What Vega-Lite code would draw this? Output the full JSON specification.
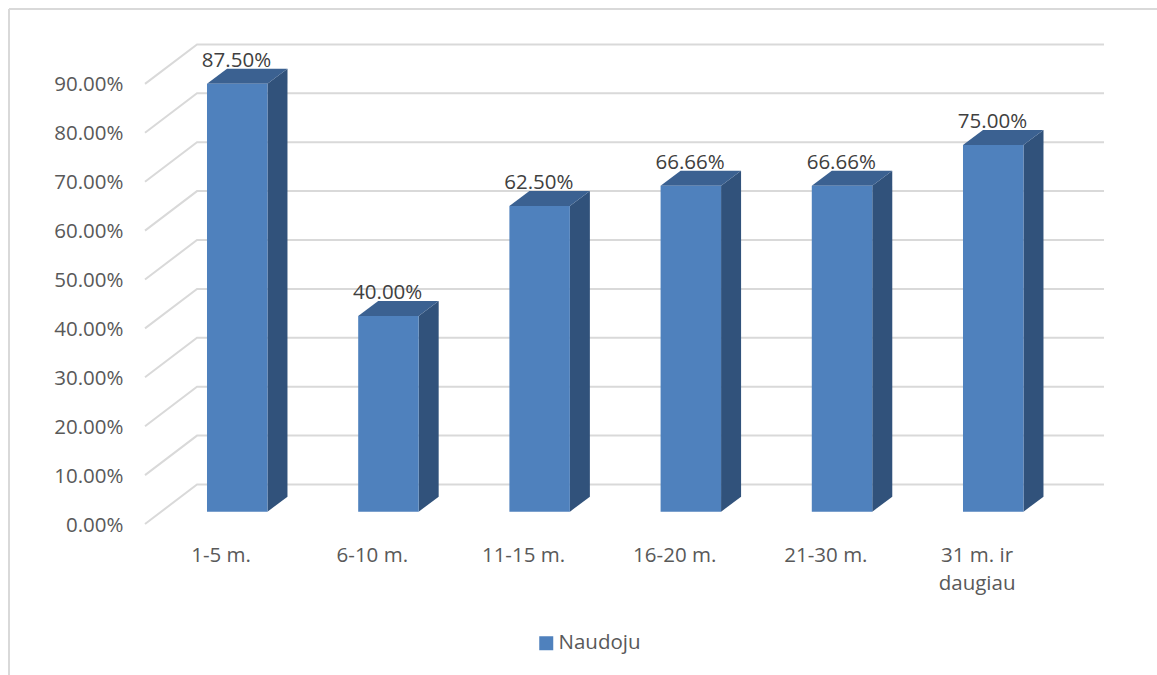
{
  "$schema": "https://vega.github.io/schema/vega-lite/v6.json",
  "width": 959,
  "height": 480,
  "autosize": "none",
  "padding": {"left": 145, "top": 44, "right": 53, "bottom": 151},
  "background": "white",
  "config": {
    "view": {"stroke": null},
    "font": "Open Sans"
  },
  "datasets": {
    "bars": [
      {"label": "1-5 m.", "slot": 0, "share": 0.875, "series": "Naudoju"},
      {"label": "6-10 m.", "slot": 1, "share": 0.4, "series": "Naudoju"},
      {"label": "11-15 m.", "slot": 2, "share": 0.625, "series": "Naudoju"},
      {"label": "16-20 m.", "slot": 3, "share": 0.6666, "series": "Naudoju"},
      {"label": "21-30 m.", "slot": 4, "share": 0.6666, "series": "Naudoju"},
      {"label": "31 m. ir daugiau", "slot": 5, "share": 0.75, "series": "Naudoju"}
    ],
    "levels": [
      {"level": 0}, {"level": 0.1}, {"level": 0.2}, {"level": 0.3}, {"level": 0.4},
      {"level": 0.5}, {"level": 0.6}, {"level": 0.7}, {"level": 0.8}, {"level": 0.9}
    ],
    "border": [
      {"edge": "left", "x": -0.8995, "y": 1.0532, "t": 0},
      {"edge": "left", "x": -0.8995, "y": -1, "t": 1},
      {"edge": "top", "x": -0.8995, "y": 1.0532, "t": 0},
      {"edge": "top", "x": 8, "y": 1.0532, "t": 1}
    ]
  },
  "encoding": {
    "x": {
      "field": "x",
      "type": "quantitative",
      "scale": {"domain": [0, 6.3426], "nice": false, "zero": false},
      "axis": {
        "title": null,
        "orient": "bottom",
        "domain": false,
        "ticks": false,
        "grid": false,
        "values": [0.5, 1.5, 2.5, 3.5, 4.5, 5.5],
        "labelExpr": "[['1-5 m.'], ['6-10 m.'], ['11-15 m.'], ['16-20 m.'], ['21-30 m.'], ['31 m. ir', 'daugiau']][floor(datum.value)]",
        "labelFont": "Open Sans",
        "labelFontSize": 20.5,
        "labelColor": "#595959",
        "labelPadding": 21,
        "labelBaseline": "top",
        "labelLineHeight": 28,
        "labelAlign": "center",
        "labelOverlap": false,
        "labelFlush": false
      }
    },
    "y": {
      "field": "y",
      "type": "quantitative",
      "scale": {"domain": [0, 0.9816], "nice": false, "zero": false},
      "axis": {
        "title": null,
        "domain": false,
        "ticks": false,
        "grid": false,
        "values": [0, 0.1, 0.2, 0.3, 0.4, 0.5, 0.6, 0.7, 0.8, 0.9],
        "format": ".2%",
        "labelFont": "Open Sans",
        "labelFontSize": 20.5,
        "labelColor": "#595959",
        "labelPadding": 22,
        "labelOffset": 1
      }
    }
  },
  "layer": [
    {
      "description": "Chart-area border, open towards the right and bottom",
      "data": {"name": "border"},
      "mark": {"type": "line", "stroke": "#d9d9d9", "strokeWidth": 2, "clip": false},
      "encoding": {
        "detail": {"field": "edge"},
        "order": {"field": "t"}
      }
    },
    {
      "description": "Gridlines: side-wall diagonal then back-wall horizontal",
      "data": {"name": "levels"},
      "transform": [
        {"calculate": "[0, 1, 2]", "as": "t"},
        {"flatten": ["t"]},
        {"calculate": "[0, 0.344, 6.3426][datum.t]", "as": "x"},
        {"calculate": "datum.level + (datum.t > 0 ? 0.0808 : 0)", "as": "y"}
      ],
      "mark": {"type": "line", "stroke": "#d9d9d9", "strokeWidth": 2},
      "encoding": {"detail": {"field": "level"}}
    },
    {
      "description": "Right side face of each column",
      "data": {"name": "bars"},
      "transform": [
        {"calculate": "[0, 1]", "as": "t"},
        {"flatten": ["t"]},
        {"calculate": "datum.slot + 0.81 + datum.t * 0.1323", "as": "x"},
        {"calculate": "0.0252 + datum.t * 0.0307", "as": "y"},
        {"calculate": "datum.share + 0.0252 + datum.t * 0.0307", "as": "y_top"}
      ],
      "mark": {"type": "area", "orient": "vertical", "fill": "#31527b"},
      "encoding": {
        "y2": {"field": "y_top"},
        "detail": {"field": "label"}
      }
    },
    {
      "description": "Top face of each column",
      "data": {"name": "bars"},
      "transform": [
        {"calculate": "[0, 1, 2, 3]", "as": "t"},
        {"flatten": ["t"]},
        {"calculate": "datum.slot + 0.41 + [0, 0.1323, 0.4, 0.5323][datum.t]", "as": "x"},
        {"calculate": "datum.share + 0.0252 + (datum.t == 3 ? 0.0307 : 0)", "as": "y"},
        {"calculate": "datum.share + 0.0252 + (datum.t == 0 ? 0 : 0.0307)", "as": "y_top"}
      ],
      "mark": {"type": "area", "orient": "vertical", "fill": "#3b6191"},
      "encoding": {
        "y2": {"field": "y_top"},
        "detail": {"field": "label"}
      }
    },
    {
      "description": "Front face of each column, carrying the legend",
      "data": {"name": "bars"},
      "transform": [
        {"calculate": "datum.slot + 0.41", "as": "x"},
        {"calculate": "datum.slot + 0.81", "as": "x_end"},
        {"calculate": "datum.share + 0.0252", "as": "y"},
        {"calculate": "0.0252", "as": "y_base"}
      ],
      "mark": {"type": "rect"},
      "encoding": {
        "x2": {"field": "x_end"},
        "y2": {"field": "y_base"},
        "color": {
          "field": "series",
          "type": "nominal",
          "scale": {"range": ["#4f81bd"]},
          "legend": {
            "title": null,
            "orient": "none",
            "legendX": 391,
            "legendY": 589,
            "symbolType": "square",
            "symbolSize": 196,
            "symbolStrokeWidth": 0,
            "symbolOpacity": 1,
            "labelFont": "Open Sans",
            "labelFontSize": 20.5,
            "labelColor": "#595959",
            "labelOffset": 2
          }
        }
      }
    },
    {
      "description": "Value labels above the columns",
      "data": {"name": "bars"},
      "transform": [
        {"calculate": "datum.slot + 0.41 + 0.195", "as": "x"},
        {"calculate": "datum.share + 0.0252", "as": "y"}
      ],
      "mark": {
        "type": "text",
        "font": "Open Sans",
        "fontSize": 20.5,
        "color": "#404040",
        "align": "center",
        "baseline": "alphabetic",
        "dy": -17
      },
      "encoding": {
        "text": {"field": "share", "type": "quantitative", "format": ".2%"}
      }
    }
  ]
}
